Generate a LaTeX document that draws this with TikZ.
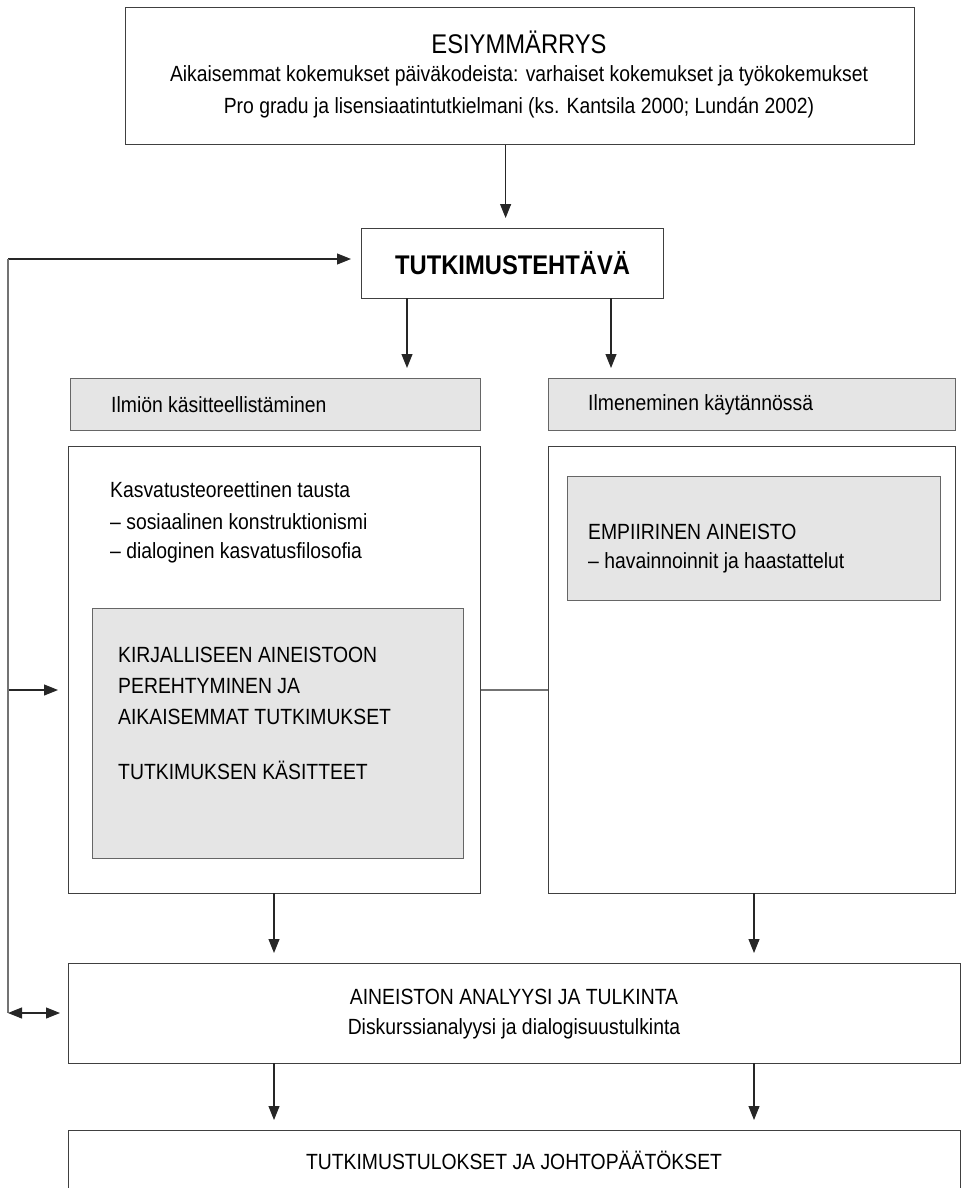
\documentclass[tikz,border=0pt]{standalone}
\usepackage{fontspec}
\setmainfont{Liberation Sans}[FakeStretch=0.88]
\usetikzlibrary{arrows.meta}
\begin{document}
\begin{tikzpicture}[x=1pt,y=-1pt,
  box/.style={draw=black!75,line width=1.2pt,fill=white,inner sep=0pt,anchor=north west},
  graybox/.style={draw=black!60,line width=1.2pt,fill=black!10,inner sep=0pt,anchor=north west},
  txt/.style={inner sep=0pt,font=\fontsize{22}{24}\selectfont},
  ltxt/.style={txt,anchor=west},
  arr/.style={draw=black!85,line width=1.1pt,-{Triangle[length=14pt,width=11pt]},shorten >=10pt},
  conn/.style={draw=black!55,line width=1.2pt}]
\useasboundingbox (0,0) rectangle (961,1188);
\clip (0,0) rectangle (961,1188);
% top box
\node[box,minimum width=789pt,minimum height=137pt] (top) at (125,7) {};
\node[txt,font=\fontsize{27}{30}\selectfont] (t1) at (519,42) {ESIYMMÄRRYS};
\node[txt] (t2) at (519,76) {Aikaisemmat kokemukset päiväkodeista: varhaiset kokemukset ja työkokemukset};
\node[txt] (t3) at (519,108) {Pro gradu ja lisensiaatintutkielmani (ks. Kantsila 2000; Lundán 2002)};
% task
\node[box,minimum width=302pt,minimum height=70pt] (task) at (361,228) {};
\node[txt,font=\fontsize{27}{30}\selectfont\bfseries] (tasktxt) at (task.center) {TUTKIMUSTEHTÄVÄ};
% headers
\node[graybox,minimum width=410pt,minimum height=52pt] (hl) at (70,378) {};
\node[ltxt] (hltxt) at (111,405) {Ilmiön käsitteellistäminen};
\node[graybox,minimum width=407pt,minimum height=52pt] (hr) at (548,378) {};
\node[ltxt] (hrtxt) at (588,405) {Ilmeneminen käytännössä};
% big boxes
\node[box,minimum width=412pt,minimum height=447pt] (bl) at (68,446) {};
\node[box,minimum width=407pt,minimum height=447pt] (br) at (548,446) {};
\node[ltxt] (l1) at (110,490) {Kasvatusteoreettinen tausta};
\node[ltxt] (l2) at (110,522) {– sosiaalinen konstruktionismi};
\node[ltxt] (l3) at (110,553) {– dialoginen kasvatusfilosofia};
\node[graybox,minimum width=371pt,minimum height=250pt] (gl) at (92,608) {};
\node[ltxt] (g1) at (118,655) {KIRJALLISEEN AINEISTOON};
\node[ltxt] (g2) at (118,686) {PEREHTYMINEN JA};
\node[ltxt] (g3) at (118,717) {AIKAISEMMAT TUTKIMUKSET};
\node[ltxt] (g4) at (118,770) {TUTKIMUKSEN KÄSITTEET};
\node[graybox,minimum width=373pt,minimum height=124pt] (gr) at (567,476) {};
\node[ltxt] (r1) at (588,532) {EMPIIRINEN AINEISTO};
\node[ltxt] (r2) at (588,563) {– havainnoinnit ja haastattelut};
% analysis
\node[box,minimum width=892pt,minimum height=100pt] (an) at (68,963) {};
\node[txt] (a1) at (514,997) {AINEISTON ANALYYSI JA TULKINTA};
\node[txt] (a2) at (514,1029) {Diskurssianalyysi ja dialogisuustulkinta};
% results
\node[box,minimum width=892pt,minimum height=120pt] (res) at (68,1130) {};
\node[txt] (rs) at (514,1160) {TUTKIMUSTULOKSET JA JOHTOPÄÄTÖKSET};
% feedback loop
\coordinate (c1) at (8,259);
\coordinate (c2) at (8,690);
\coordinate (c3) at (8,1013);
% connectors
\draw[arr] (top.south -| task.north) ++(-7,0) coordinate (ta) -- (ta |- task.north);
\draw[arr] (407,298) coordinate (s1) -- (s1 |- hl.north);
\draw[arr] (611,298) coordinate (s2) -- (s2 |- hr.north);
\draw[arr] (c1) -- (c1 -| task.west);
\draw[arr] (c2) -- (c2 -| bl.west);
\draw[conn] (c1) -- (c3);
\draw[draw=black!85,line width=1.1pt,{Triangle[length=14pt,width=11pt]}-{Triangle[length=14pt,width=11pt]},shorten >=8pt] (c3) -- (c3 -| an.west);
\draw[conn] (bl.east |- c2) -- (br.west |- c2);
\draw[arr] (274,893) coordinate (b1) -- (b1 |- an.north);
\draw[arr] (754,893) coordinate (b2) -- (b2 |- an.north);
\draw[arr] (274,1063) coordinate (d1) -- (d1 |- res.north);
\draw[arr] (754,1063) coordinate (d2) -- (d2 |- res.north);
\end{tikzpicture}
\end{document}
